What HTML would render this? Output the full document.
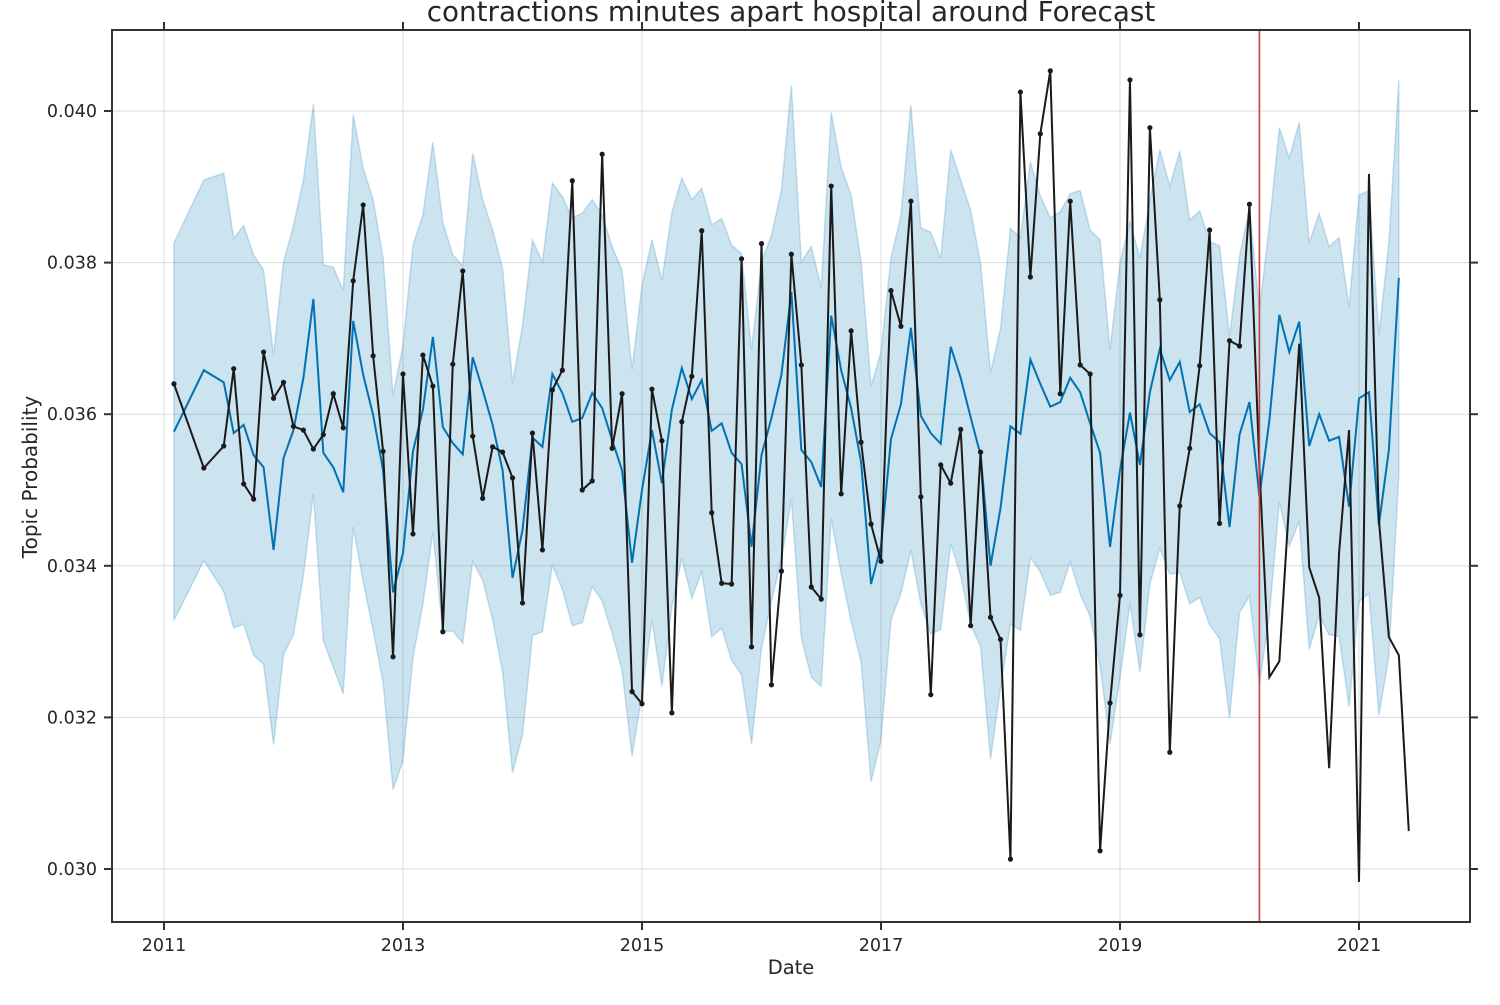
<!DOCTYPE html>
<html><head><meta charset="utf-8"><style>
html,body{margin:0;padding:0;background:#fff;}
svg text{font-family:"DejaVu Sans","Liberation Sans",sans-serif;fill:#262626;}
</style></head><body>
<svg id="chart" width="1500" height="1000" xmlns="http://www.w3.org/2000/svg">
<rect width="1500" height="1000" fill="#fff"/>
<g id="grid"></g>
<g id="band"></g>
<g id="series"></g>
<g id="axes"></g>
<text x="791" y="21" font-size="27.8" text-anchor="middle">contractions minutes apart hospital around Forecast</text>
<text x="791" y="974" font-size="19.5" text-anchor="middle">Date</text>
<text x="37" y="477" font-size="20" text-anchor="middle" transform="rotate(-90 37 477)">Topic Probability</text>
</svg>
<script>
// month offsets from Jan 2011
const actualMonths = [1,4].concat(Array.from({length:120},(_, i)=>i+6));
const actualValues = [36.40,35.29,35.58,36.60,35.08,34.88,36.82,36.21,36.42,35.84,
35.79,35.54,35.73,36.27,35.82,37.76,38.76,36.77,35.51,32.80,
36.53,34.42,36.78,36.37,33.13,36.66,37.89,35.71,34.89,35.57,
35.50,35.16,33.51,35.75,34.21,36.32,36.58,39.08,35.00,35.12,
39.43,35.55,36.27,32.34,32.18,36.33,35.65,32.06,35.90,36.50,
38.42,34.70,33.77,33.76,38.05,32.93,38.25,32.43,33.93,38.11,
36.65,33.72,33.56,39.01,34.95,37.10,35.63,34.55,34.06,37.63,
37.16,38.81,34.91,32.30,35.33,35.09,35.80,33.21,35.50,33.32,
33.03,30.13,40.25,37.81,39.70,40.53,36.27,38.81,36.65,36.53,
30.24,32.19,33.61,40.41,33.09,39.78,37.51,31.54,34.79,35.55,
36.64,38.43,34.56,36.97,36.90,38.77,35.30,
32.53,32.74,34.87,36.93,33.98,33.58,31.33,34.17,35.79,29.83,39.17,34.60,33.06,32.82,30.50];
const observedCount = 106;
const forecastMonths = [1,4].concat(Array.from({length:119},(_, i)=>i+6));
const yhat = [35.77,36.58,36.42,35.75,35.86,35.46,35.30,34.21,35.42,35.79,
36.48,37.52,35.49,35.30,34.97,37.23,36.52,35.99,35.26,33.65,
34.17,35.51,36.06,37.02,35.83,35.62,35.47,36.75,36.32,35.86,
35.26,33.84,34.47,35.69,35.57,36.53,36.28,35.90,35.95,36.28,
36.08,35.66,35.26,34.04,35.00,35.79,35.09,36.06,36.61,36.20,
36.45,35.78,35.88,35.49,35.34,34.25,35.46,35.95,36.52,37.61,
35.53,35.37,35.04,37.30,36.58,36.08,35.37,33.76,34.26,35.67,
36.13,37.14,35.98,35.75,35.61,36.89,36.48,35.96,35.46,34.00,
34.76,35.84,35.74,36.72,36.40,36.10,36.16,36.48,36.29,35.88,
35.49,34.25,35.26,36.02,35.33,36.29,36.86,36.45,36.69,36.03,
36.13,35.75,35.63,34.51,35.73,36.16,34.91,
35.92,37.31,36.82,37.22,35.58,36.00,35.65,35.70,34.78,36.21,36.29,34.54,35.53,37.80];
const bandHalfWidth = [2.49,2.51,2.76,2.57,2.63,2.64,2.60,2.57,2.59,2.70,
2.61,2.57,2.48,2.64,2.66,2.72,2.73,2.84,2.80,2.60,
2.74,2.72,2.57,2.57,2.70,2.48,2.49,2.69,2.51,2.57,
2.66,2.57,2.70,2.61,2.44,2.52,2.59,2.69,2.70,2.55,
2.55,2.55,2.64,2.55,2.70,2.51,2.68,2.60,2.51,2.63,
2.53,2.72,2.70,2.74,2.78,2.60,2.55,2.41,2.44,2.73,
2.48,2.84,2.63,2.68,2.68,2.81,2.64,2.61,2.56,2.39,
2.49,2.94,2.48,2.65,2.45,2.60,2.61,2.73,2.53,2.55,
2.37,2.61,2.59,2.61,2.48,2.49,2.51,2.43,2.66,2.55,
2.81,2.60,2.74,2.52,2.73,2.53,2.63,2.56,2.78,2.53,
2.55,2.53,2.59,2.52,2.35,2.56,2.47,
2.57,2.47,2.56,2.63,2.68,2.65,2.56,2.63,2.64,2.68,2.66,2.51,2.73,2.61];
const changepointMonth = 110;
const xTickLabels = ['2011','2013','2015','2017','2019','2021'];
const yTickLabels = ['0.030','0.032','0.034','0.036','0.038','0.040'];

const L=112,R=1470,T=30,B=922;
const NS='http://www.w3.org/2000/svg';
function xs(m){return 164 + m*(1195/120);}
function ys(v){return 869 - (v-30)*75.8;}
function mk(tag,attrs,parent){const e=document.createElementNS(NS,tag);for(const k in attrs)e.setAttribute(k,attrs[k]);parent.appendChild(e);return e;}
const grid=document.getElementById('grid'),axes=document.getElementById('axes'),band=document.getElementById('band'),series=document.getElementById('series');

xTickLabels.forEach(t=>{
  const x=xs((+t-2011)*12);
  const g=mk('line',{x1:x,x2:x,y1:T,y2:B,stroke:'#dcdcdc','stroke-width':1},grid);
  
  
  mk('line',{x1:x,x2:x,y1:B,y2:B+8,stroke:'#333','stroke-width':2},axes);
  mk('line',{x1:x,x2:x,y1:T,y2:T-8,stroke:'#333','stroke-width':2},axes);
  const tx=mk('text',{x:x,y:951,'font-size':17.5,'text-anchor':'middle'},axes);
  tx.textContent=t;
  
  
});
yTickLabels.forEach(t=>{
  const y=ys(parseFloat(t)*1000);
  const g=mk('line',{x1:L,x2:R,y1:y,y2:y,stroke:'#dcdcdc','stroke-width':1},grid);
  
  
  mk('line',{x1:L,x2:L-8,y1:y,y2:y,stroke:'#333','stroke-width':2},axes);
  mk('line',{x1:R,x2:R+8,y1:y,y2:y,stroke:'#333','stroke-width':2},axes);
  const tx=mk('text',{x:97,y:y+6,'font-size':17.5,'text-anchor':'end'},axes);
  tx.textContent=t;
  
  
});
const frame=mk('rect',{x:L,y:T,width:R-L,height:B-T,fill:'none',stroke:'#333','stroke-width':2},axes);



let up=forecastMonths.map((m,i)=>xs(m)+','+ys(yhat[i]+bandHalfWidth[i]));
let lo=forecastMonths.map((m,i)=>xs(m)+','+ys(yhat[i]-bandHalfWidth[i])).reverse();
const bp=mk('polygon',{points:up.concat(lo).join(' '),fill:'#0072b2','fill-opacity':0.2,stroke:'#0072b2','stroke-opacity':0.2,'stroke-width':1.5},band);



const fl=mk('polyline',{points:forecastMonths.map((m,i)=>xs(m)+','+ys(yhat[i])).join(' '),fill:'none',stroke:'#0072b2','stroke-width':2},series);



const al=mk('polyline',{points:actualMonths.map((m,i)=>xs(m)+','+ys(actualValues[i])).join(' '),fill:'none',stroke:'#1a1a1a','stroke-width':2},series);


for(let i=0;i<observedCount;i++){
  const c=mk('circle',{cx:xs(actualMonths[i]),cy:ys(actualValues[i]),r:2.6,fill:'#1a1a1a'},series);
  
  
}
const cx=xs(changepointMonth);
const rl=mk('line',{x1:cx,x2:cx,y1:T,y2:B,stroke:'#cc3b3b','stroke-width':1.6},series);


</script>
</body></html>
